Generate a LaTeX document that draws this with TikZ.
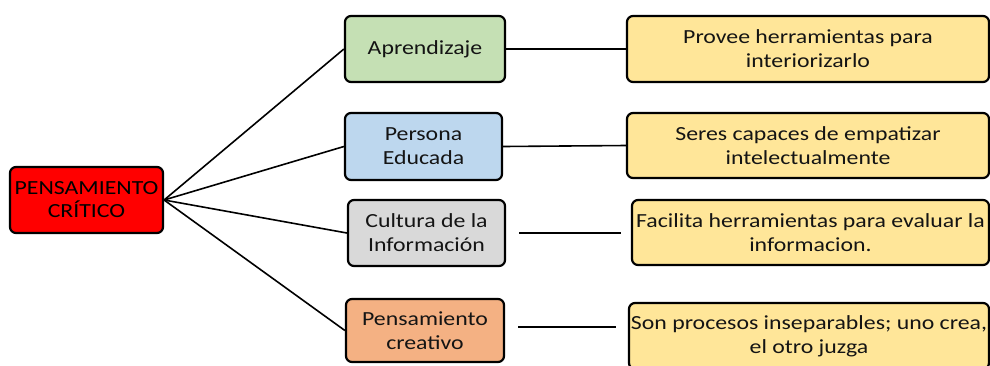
\documentclass[tikz,border=0pt]{standalone}
\usepackage{fontspec}
\setmainfont{Carlito}
\newfontfamily\widefont[FakeStretch=1.19]{Carlito}
\definecolor{rootred}{HTML}{FF0000}
\definecolor{agreen}{HTML}{C5E0B4}
\definecolor{ablue}{HTML}{BDD7EE}
\definecolor{agray}{HTML}{D9D9D9}
\definecolor{aorange}{HTML}{F4B183}
\definecolor{byellow}{HTML}{FFE699}
\definecolor{txt}{HTML}{141414}
\begin{document}
\begin{tikzpicture}[x=1pt,y=-1pt,
  box/.style={draw=black, line width=2.2pt, rounded corners=6pt, inner sep=0pt,
    align=center, text=txt, font=\widefont\fontsize{20}{24}\selectfont},
  conn/.style={draw=black, line width=1.6pt}]
\useasboundingbox (0,0) rectangle (990,365);
\node[box, fill=rootred, minimum width=153pt, minimum height=66pt,
  font=\widefont\fontsize{20}{23}\selectfont, text=black] (root) at (86.5,200) {PENSAMIENTO\\CRÍTICO};
\node[box, fill=agreen, minimum width=160pt, minimum height=66pt] (a1) at (425,49) {Aprendizaje};
\node[box, fill=ablue, minimum width=157pt, minimum height=67pt] (a2) at (423.5,146.5) {Persona\\Educada};
\node[box, fill=agray, minimum width=157pt, minimum height=66pt] (a3) at (426.5,233) {Cultura de la\\Información};
\node[box, fill=aorange, minimum width=158pt, minimum height=63pt] (a4) at (425,330.5) {Pensamiento\\creativo};
\node[box, fill=byellow, minimum width=362pt, minimum height=66pt] (b1) at (808,49) {Provee herramientas para\\interiorizarlo};
\node[box, fill=byellow, minimum width=362pt, minimum height=65pt] (b2) at (808,145.5) {Seres capaces de empatizar\\intelectualmente};
\node[box, fill=byellow, minimum width=357pt, minimum height=65pt] (b3) at (810.5,232.5) {Facilita herramientas para evaluar la\\informacion.};
\node[box, fill=byellow, minimum width=360pt, minimum height=66pt] (b4) at (809,336) {Son procesos inseparables; uno crea,\\el otro juzga};
\foreach \n in {a1,a2,a3,a4} \draw[conn] (root.east) -- (\n.west);
\draw[conn] (a1.east) -- (b1.west);
\draw[conn] (a2.east) -- (b2.west);
\draw[conn, shorten <=13pt, shorten >=10pt] (a3.east) -- (a3.east -| b3.west);
\draw[conn, shorten <=13pt, shorten >=12pt] ([yshift=3.5pt]a4.east) -- ([yshift=3.5pt]a4.east -| b4.west);
\end{tikzpicture}
\end{document}
